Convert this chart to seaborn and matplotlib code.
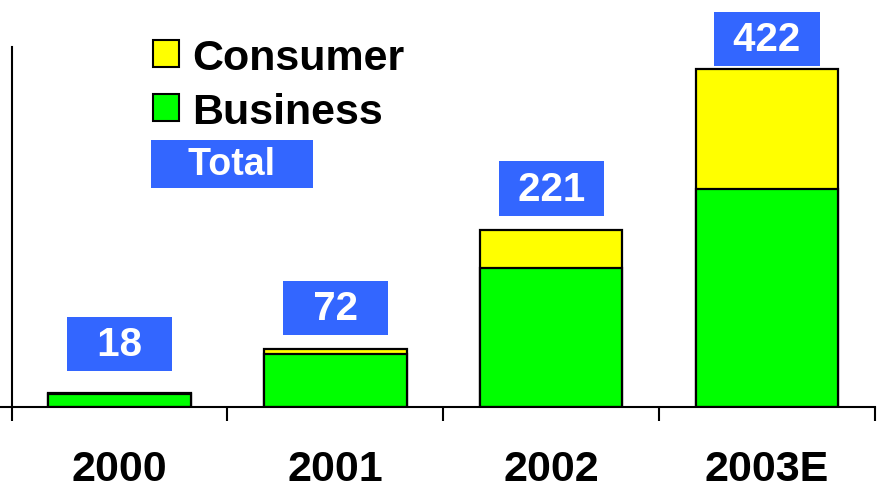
import pandas as pd
import matplotlib.pyplot as plt
import seaborn as sns
from matplotlib.patches import Patch

years = ["2000", "2001", "2002", "2003E"]
business = [16, 66, 174, 272]
consumer = [2, 6, 47, 150]
totals = [18, 72, 221, 422]

df = pd.DataFrame({"year": years, "business": business, "consumer": consumer})
df["total"] = df["business"] + df["consumer"]

sns.set_style("white")
plt.rcParams["font.family"] = "Liberation Sans"
plt.rcParams["font.weight"] = "bold"
plt.rcParams["text.color"] = "black"
plt.rcParams["xtick.color"] = "black"

fig = plt.figure(figsize=(8.77, 4.89), dpi=100)
ax = fig.add_axes([0, 1 - 408 / 489, 875 / 877, 360 / 489])

# stacked: draw total (yellow) then business (green) over it
sns.barplot(data=df, x="year", y="total", color="#FFFF00", saturation=1,
            width=0.66, edgecolor="black", linewidth=1.6, ax=ax)
sns.barplot(data=df, x="year", y="business", color="#00FF00", saturation=1,
            width=0.66, edgecolor="black", linewidth=1.6, ax=ax)

ax.set_xlim(-0.554, 3.5)
ax.set_ylim(0, 450)
ax.set_xlabel("")
ax.set_ylabel("")
ax.set_yticks([])
ax.set_xticks([-0.5, 0.5, 1.5, 2.5, 3.5])
ax.set_xticklabels([])
ax.tick_params(axis="x", direction="out", length=10, width=1.5, color="black", bottom=True)
ax.set_xticks(range(len(years)), minor=True)
ax.set_xticklabels(years, minor=True, fontsize=31, fontweight="bold", color="black")
ax.tick_params(axis="x", which="minor", length=0, pad=30)

for s in ["top", "right"]:
    ax.spines[s].set_visible(False)
ax.spines["left"].set_position(("data", -0.5))
for s in ["left", "bottom"]:
    ax.spines[s].set_color("black")
    ax.spines[s].set_linewidth(1.5)

# value boxes above bars (padded to equal width)
label_offsets = [35, 30, 30, 22]  # points above bar top
for i, t in enumerate(totals):
    txt = f" {t} " if t >= 100 else f"  {t}  "
    ax.annotate(txt, xy=(i, t), xytext=(0, label_offsets[i]),
                textcoords="offset points", ha="center", va="center",
                fontsize=29, fontweight="bold", color="white",
                bbox=dict(boxstyle="square,pad=0.2", fc="#3366FF", ec="none"))

handles = [Patch(facecolor="#FFFF00", edgecolor="black", linewidth=1.5),
           Patch(facecolor="#00FF00", edgecolor="black", linewidth=1.5)]
fig.legend(handles, ["Consumer", "Business"], loc="upper left",
           bbox_to_anchor=(153 / 877, 1 - 39 / 489), frameon=False,
           prop=dict(size=31, weight="bold"), handlelength=0.6, handleheight=0.6,
           handletextpad=0.32, labelspacing=0.32, borderpad=0, borderaxespad=0)

fig.text(232 / 877, 1 - 165 / 489, "   Total   ", ha="center", va="center",
         fontsize=27, fontweight="bold", color="white",
         bbox=dict(boxstyle="square,pad=0.17", fc="#3366FF", ec="none"))

fig.savefig("out.png", dpi=100)
